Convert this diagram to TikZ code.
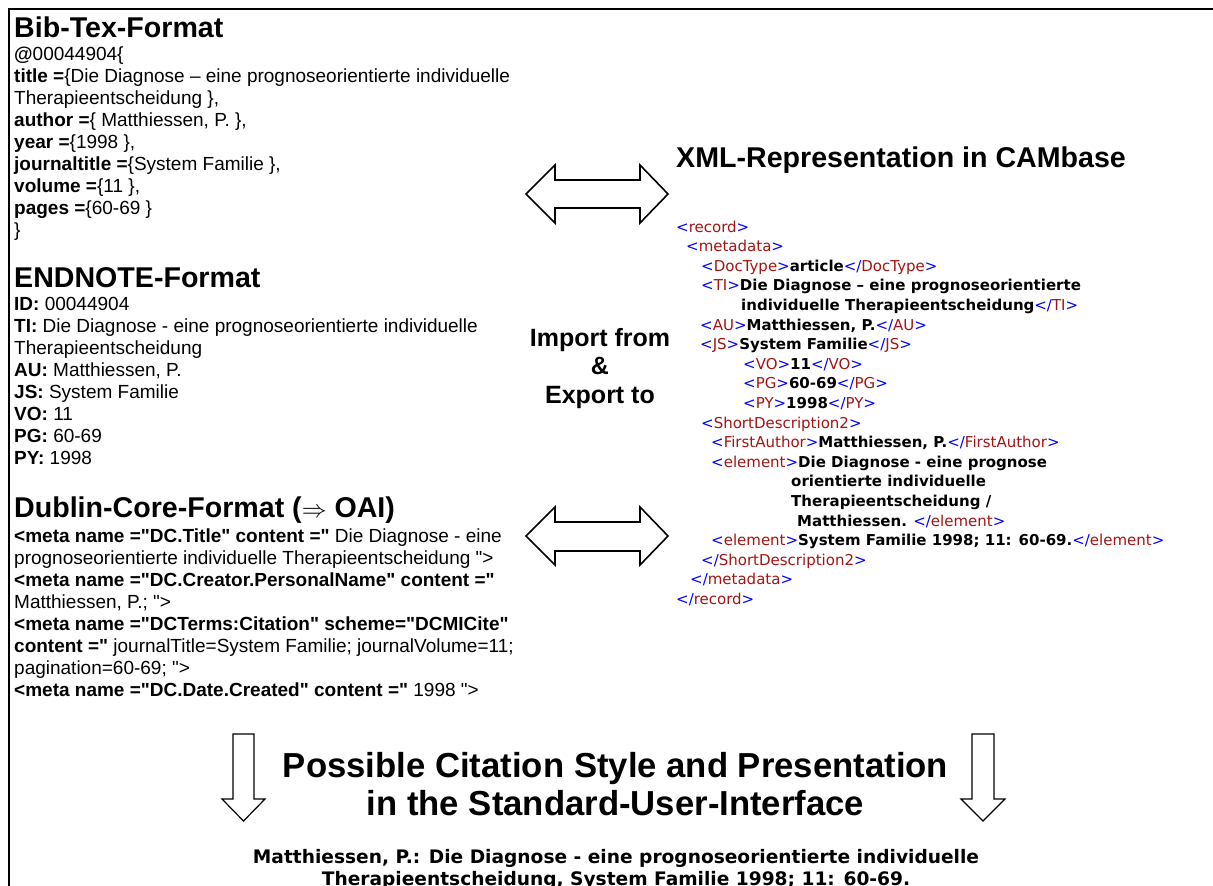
\documentclass[tikz,border=0pt]{standalone}
\usepackage{fontspec}
\setmainfont{Liberation Sans}[Ligatures=TeXOff]
\newfontfamily\xmlfont{DejaVu Sans}[Ligatures=TeXOff]
\definecolor{xmlblue}{RGB}{0,0,255}
\definecolor{xmlred}{RGB}{163,21,21}
\newcommand\xo[1]{\textcolor{xmlblue}{<}\textcolor{xmlred}{#1}\textcolor{xmlblue}{>}}
\newcommand\xc[1]{\textcolor{xmlblue}{</}\textcolor{xmlred}{#1}\textcolor{xmlblue}{>}}
\newcommand\ind[1]{\hspace*{#1pt}}
% note: for multi-line nodes the "base" anchors refer to the LAST line's baseline
\tikzset{
  sectitle/.style={anchor=base west, inner sep=0pt, font=\bfseries\fontsize{28.6}{33}\selectfont},
  body/.style={anchor=base west, inner sep=0pt, align=left, font=\fontsize{19}{22}\selectfont},
  xml/.style={anchor=base west, inner sep=0pt, align=left, font=\xmlfont\fontsize{15}{19.6}\selectfont},
  midlabel/.style={anchor=base, inner sep=0pt, align=center, font=\bfseries\fontsize{25}{28.5}\selectfont},
  bigtitle/.style={anchor=base, inner sep=0pt, align=center, font=\bfseries\fontsize{34.7}{38}\selectfont},
  citetext/.style={anchor=base, inner sep=0pt, align=center, font=\xmlfont\bfseries\fontsize{18.6}{22}\selectfont},
  blockarrow/.style={draw=black, line width=1.6pt, fill=white, line join=miter},
  downarrow/.style={draw=black, line width=1.2pt, fill=white, line join=miter},
  frameline/.style={draw=black, line width=1.5pt}
}
\begin{document}
\begin{tikzpicture}[x=1pt,y=-1pt]
\useasboundingbox (0,0) rectangle (1213,886);
\fill[white] (0,0) rectangle (1213,886);
% frame
\coordinate (fTL) at (9,9);
\coordinate (fTR) at (1213,9);
\coordinate (fBL) at (9,886);
\draw[frameline] (fTR) -- (fTL) -- (fBL);

% Bib-Tex
\node[sectitle] (bibT) at (14,37) {Bib-Tex-Format};
\node[body] (bib) at (14,236) {\textbf{@}00044904\{\\
\textbf{title =}\{Die Diagnose – eine prognoseorientierte individuelle\\
Therapieentscheidung \},\\
\textbf{author =}\{ Matthiessen, P. \},\\
\textbf{year =}\{1998 \},\\
\textbf{journaltitle =}\{System Familie \},\\
\textbf{volume =}\{11 \},\\
\textbf{pages =}\{60-69 \}\\
\}};

% Endnote
\node[sectitle] (endT) at (14,287) {ENDNOTE-Format};
\node[body] (end) at (14,464) {\textbf{ID:} 00044904\\
\textbf{TI:} Die Diagnose - eine prognoseorientierte individuelle\\
Therapieentscheidung\\
\textbf{AU:} Matthiessen, P.\\
\textbf{JS:} System Familie\\
\textbf{VO:} 11\\
\textbf{PG:} 60-69\\
\textbf{PY:} 1998};

% Dublin Core
\node[sectitle] (dcT) at (14,517) {Dublin-Core-Format (\ensuremath{\Rightarrow} OAI)};
\node[body] (dc) at (14,696) {\textbf{<meta name ="DC.Title" content ="} Die Diagnose - eine\\
prognoseorientierte individuelle Therapieentscheidung ">\\
\textbf{<meta name ="DC.Creator.PersonalName" content ="}\\
Matthiessen, P.; ">\\
\textbf{<meta name ="DCTerms:Citation" scheme="DCMICite"}\\
\textbf{content ="} journalTitle=System Familie; journalVolume=11;\\
pagination=60-69; ">\\
\textbf{<meta name ="DC.Date.Created" content ="} 1998 ">};

% XML
\node[sectitle] (xmlT) at (676,167) {XML-Representation in CAMbase};
\node[xml] (xml) at (676,604.5) {\xo{record}\\
\ind{10}\xo{metadata}\\
\ind{25}\xo{DocType}\textbf{article}\xc{DocType}\\
\ind{25}\xo{TI}\textbf{Die Diagnose – eine prognoseorientierte}\\
\ind{65}\textbf{individuelle Therapieentscheidung}\xc{TI}\\
\ind{24}\xo{AU}\textbf{Matthiessen, P.}\xc{AU}\\
\ind{24}\xo{JS}\textbf{System Familie}\xc{JS}\\
\ind{67}\xo{VO}\textbf{11}\xc{VO}\\
\ind{67}\xo{PG}\textbf{60-69}\xc{PG}\\
\ind{67}\xo{PY}\textbf{1998}\xc{PY}\\
\ind{25}\xo{ShortDescription2}\\
\ind{35}\xo{FirstAuthor}\textbf{Matthiessen, P.}\xc{FirstAuthor}\\
\ind{35}\xo{element}\textbf{Die Diagnose - eine prognose}\\
\ind{115}\textbf{orientierte individuelle}\\
\ind{115}\textbf{Therapieentscheidung /}\\
\ind{121}\textbf{Matthiessen.} \xc{element}\\
\ind{35}\xo{element}\textbf{System Familie 1998; 11: 60-69.}\xc{element}\\
\ind{25}\xc{ShortDescription2}\\
\ind{14}\xc{metadata}\\
\xc{record}};

% middle label
\node[midlabel] (imp) at (600,403) {Import from\\\&\\Export to};

% double arrows
\draw[blockarrow] (526,194) -- (555,165) -- (555,180) -- (640,180) -- (640,165) -- (668,194)
  -- (640,223) -- (640,208) -- (555,208) -- (555,223) -- cycle;
\draw[blockarrow] (526,536) -- (555,507) -- (555,522) -- (640,522) -- (640,507) -- (668,536)
  -- (640,565) -- (640,551) -- (555,551) -- (555,565) -- cycle;

% down arrows
\draw[downarrow] (233,734) -- (254,734) -- (254,799) -- (265,799) -- (243.5,821) -- (222,799) -- (233,799) -- cycle;
\draw[downarrow] (972,734) -- (994,734) -- (994,799) -- (1005,799) -- (983,821) -- (961,799) -- (972,799) -- cycle;

% bottom
\node[bigtitle] (style) at (615.5,815) {Possible Citation Style and Presentation\\in the Standard-User-Interface};
\node[citetext] (cite) at (616,885) {Matthiessen, P.: Die Diagnose - eine prognoseorientierte individuelle\\Therapieentscheidung, System Familie 1998; 11: 60-69.};
\end{tikzpicture}
\end{document}
